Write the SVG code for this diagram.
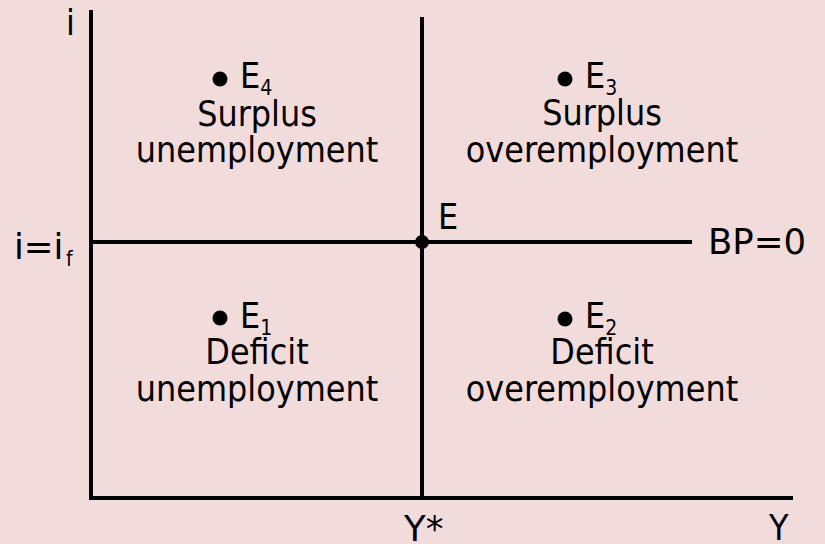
<svg xmlns="http://www.w3.org/2000/svg" width="825" height="544" viewBox="0 0 825 544">
<style>
text{font-family:"DejaVu Sans","DejaVu Sans Condensed",sans-serif;font-stretch:condensed;font-size:35.5px;fill:#000}
.w{font-stretch:normal}
.m{text-anchor:middle}
.sub{font-size:21px}
.ln{stroke:#000;stroke-width:4;fill:none}
</style>
<rect width="825" height="544" fill="#f2dcdb"/>
<g id="connectors">
<line class="ln" x1="91" y1="10" x2="91" y2="498"/>
<line class="ln" x1="89" y1="498" x2="793" y2="498"/>
<line class="ln" x1="422" y1="17" x2="422" y2="498"/>
<line class="ln" x1="91" y1="242" x2="692" y2="242"/>
</g>
<g id="axis-labels">
<text x="66" y="35">i</text>
<text class="w" x="14" y="259">i=i</text>
<text class="sub" x="66" y="266">f</text>
<text class="w" x="404" y="541">Y*</text>
<text x="769" y="540">Y</text>
<text class="w" x="708" y="254">BP=0</text>
</g>
<g id="E">
<circle cx="422" cy="242" r="7"/>
<text x="438" y="229">E</text>
</g>
<g id="E4">
<circle cx="220" cy="79" r="7.5"/>
<text x="240" y="88">E<tspan class="sub" dy="7">4</tspan></text>
<text class="m" x="257" y="126">Surplus</text>
<text class="m" x="257" y="162">unemployment</text>
</g>
<g id="E3">
<circle cx="565" cy="79" r="7.5"/>
<text x="585" y="88">E<tspan class="sub" dy="7">3</tspan></text>
<text class="m" x="602" y="125">Surplus</text>
<text class="m" x="602" y="162">overemployment</text>
</g>
<g id="E1">
<circle cx="220" cy="318" r="7.5"/>
<text x="240" y="328">E<tspan class="sub" dy="7">1</tspan></text>
<text class="m" x="257" y="364">Deficit</text>
<text class="m" x="257" y="401">unemployment</text>
</g>
<g id="E2">
<circle cx="565" cy="319" r="7.5"/>
<text x="585" y="328">E<tspan class="sub" dy="7">2</tspan></text>
<text class="m" x="602" y="364">Deficit</text>
<text class="m" x="602" y="401">overemployment</text>
</g>
</svg>
